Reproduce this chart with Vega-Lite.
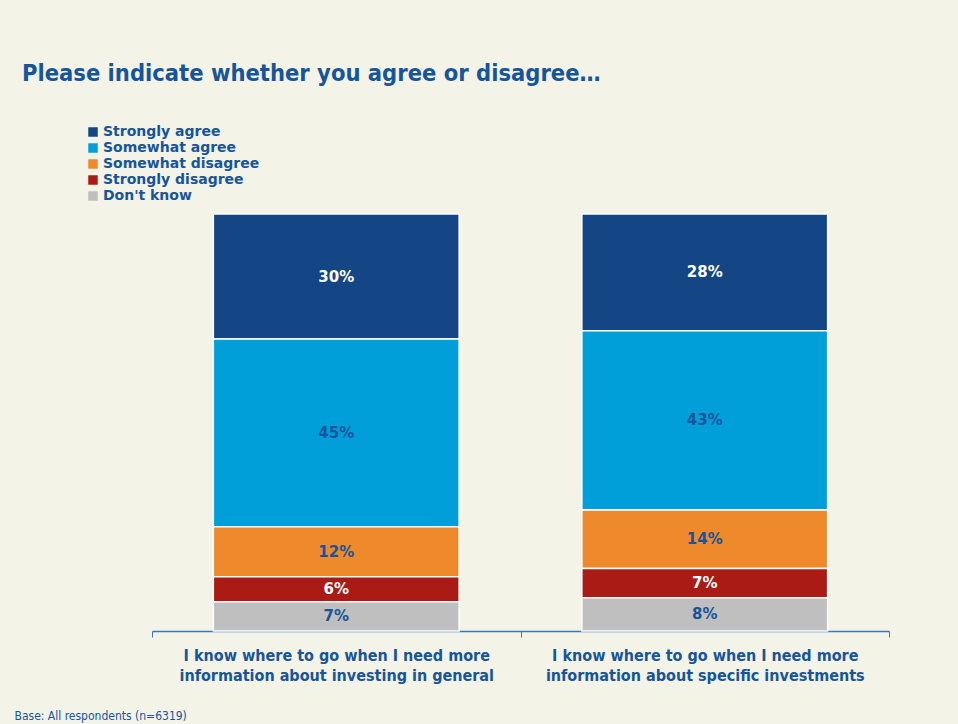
{
  "$schema": "https://vega.github.io/schema/vega-lite/v6.json",
  "width": 737,
  "height": 417,
  "autosize": {"type": "none"},
  "padding": {"left": 152, "top": 214, "right": 69, "bottom": 93},
  "background": "#f3f3e7",
  "title": {
    "text": "Please indicate whether you agree or disagree…",
    "anchor": "start",
    "frame": "group",
    "dx": -130,
    "fontSize": 23.5,
    "font": "DejaVu Sans Condensed",
    "fontWeight": "bold",
    "color": "#17559b",
    "baseline": "alphabetic",
    "offset": 21
  },
  "data": {
    "values": [
      {"question": "I know where to go when I need more|information about investing in general", "cat": "Strongly agree", "rank": 5, "value": 0.30},
      {"question": "I know where to go when I need more|information about investing in general", "cat": "Somewhat agree", "rank": 4, "value": 0.45},
      {"question": "I know where to go when I need more|information about investing in general", "cat": "Somewhat disagree", "rank": 3, "value": 0.12},
      {"question": "I know where to go when I need more|information about investing in general", "cat": "Strongly disagree", "rank": 2, "value": 0.06},
      {"question": "I know where to go when I need more|information about investing in general", "cat": "Don't know", "rank": 1, "value": 0.07},
      {"question": "I know where to go when I need more|information about specific investments", "cat": "Strongly agree", "rank": 5, "value": 0.28},
      {"question": "I know where to go when I need more|information about specific investments", "cat": "Somewhat agree", "rank": 4, "value": 0.43},
      {"question": "I know where to go when I need more|information about specific investments", "cat": "Somewhat disagree", "rank": 3, "value": 0.14},
      {"question": "I know where to go when I need more|information about specific investments", "cat": "Strongly disagree", "rank": 2, "value": 0.07},
      {"question": "I know where to go when I need more|information about specific investments", "cat": "Don't know", "rank": 1, "value": 0.08}
    ]
  },
  "transform": [
    {"stack": "value", "groupby": ["question"], "sort": [{"field": "rank", "order": "ascending"}], "as": ["v0", "v1"]}
  ],
  "encoding": {
    "x": {
      "field": "question",
      "type": "nominal",
      "sort": null,
      "scale": {"paddingInner": 0, "paddingOuter": 0},
      "axis": {
        "title": "Base: All respondents (n=6319)",
        "titleFont": "DejaVu Sans Condensed",
        "titleFontSize": 12,
        "titleFontWeight": "normal",
        "titleColor": "#17559b",
        "titleAnchor": "start",
        "titleAlign": "left",
        "titleBaseline": "alphabetic",
        "titleX": -138,
        "titleY": 88,
        "labelExpr": "split(datum.label, '|')",
        "labelAngle": 0,
        "labelLimit": 400,
        "labelFont": "DejaVu Sans Condensed",
        "labelFontSize": 16,
        "labelFontWeight": "bold",
        "labelColor": "#17559b",
        "labelLineHeight": 20,
        "labelPadding": 10,
        "tickBand": "extent",
        "tickColor": "#3a78b5",
        "tickSize": 6,
        "domainColor": "#3a78b5",
        "domainWidth": 1.5
      }
    }
  },
  "layer": [
    {
      "mark": {"type": "bar", "stroke": "white", "strokeWidth": 1.5, "width": {"band": 0.667}},
      "encoding": {
        "y": {"field": "v1", "type": "quantitative", "scale": {"domain": [0, 1]}, "axis": null},
        "y2": {"field": "v0"},
        "color": {
          "field": "cat",
          "type": "nominal",
          "scale": {
            "domain": ["Strongly agree", "Somewhat agree", "Somewhat disagree", "Strongly disagree", "Don't know"],
            "range": ["#144686", "#009fda", "#ee8a2b", "#a91b14", "#bfbfbf"]
          },
          "legend": {
            "title": null,
            "orient": "none",
            "legendX": -66,
            "legendY": -89,
            "symbolType": "square",
            "symbolSize": 90,
            "symbolOpacity": 1,
            "symbolStrokeWidth": 0,
            "labelFont": "DejaVu Sans",
            "labelFontSize": 14,
            "labelFontWeight": "bold",
            "labelColor": "#17559b",
            "labelOffset": 3,
            "rowPadding": 2,
            "padding": 0
          }
        }
      }
    },
    {
      "transform": [
        {"fold": ["v0", "v1"], "as": ["edge", "pos"]},
        {"aggregate": [{"op": "mean", "field": "pos", "as": "mid"}], "groupby": ["question", "cat", "value"]}
      ],
      "mark": {"type": "text", "font": "DejaVu Sans", "fontSize": 15, "fontWeight": "bold", "baseline": "middle"},
      "encoding": {
        "y": {"field": "mid", "type": "quantitative"},
        "text": {"field": "value", "type": "quantitative", "format": ".0%"},
        "color": {
          "condition": {"test": "datum.cat === 'Strongly agree' || datum.cat === 'Strongly disagree'", "value": "#ffffff"},
          "value": "#17559b"
        }
      }
    }
  ],
  "config": {"view": {"stroke": null}}
}
